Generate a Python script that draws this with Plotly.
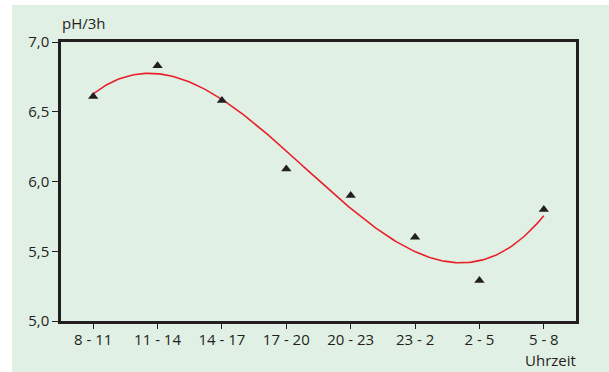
import numpy as np
import plotly.graph_objects as go

categories = ["8 - 11", "11 - 14", "14 - 17", "17 - 20", "20 - 23", "23 - 2", "2 - 5", "5 - 8"]
ph_values = [6.61, 6.83, 6.58, 6.09, 5.90, 5.60, 5.29, 5.80]
y_ticks = [5.0, 5.5, 6.0, 6.5, 7.0]

x_idx = np.arange(len(categories))
# cubic trendline fitted to the measured values
coef = np.polyfit(x_idx, ph_values, 3)
xs = np.linspace(0, len(categories) - 1, 200)
ys = np.polyval(coef, xs)

GREEN = "#e1f0e5"
DARK = "#231f20"
FONT = "Open Sans"
FS = 15

fig = go.Figure()
fig.add_trace(go.Scatter(x=xs, y=ys, mode="lines",
                         line=dict(color="#e8202a", width=1.6),
                         hoverinfo="skip", showlegend=False))
fig.add_trace(go.Scatter(x=x_idx, y=ph_values, mode="markers",
                         marker=dict(symbol="triangle-up", size=9, color=DARK),
                         showlegend=False))

fig.update_layout(
    width=609, height=372,
    margin=dict(l=61, r=33, t=42, b=51),
    paper_bgcolor=GREEN, plot_bgcolor=GREEN,
    separators=",.",
    font=dict(family=FONT, size=FS, color=DARK),
    xaxis=dict(range=[-0.5, len(categories) - 0.5], tickmode="array",
               tickvals=list(x_idx), ticktext=categories,
               showgrid=False, zeroline=False,
               showline=True, linecolor=DARK, linewidth=2.5, mirror=True,
               ticks="outside", ticklen=5, tickwidth=1, tickcolor=DARK,
               ticklabelstandoff=-2,
               tickfont=dict(family=FONT, size=FS, color=DARK)),
    yaxis=dict(range=[5.0, 7.0], tickmode="array", tickvals=y_ticks,
               tickformat=".1f", showgrid=False, zeroline=False,
               showline=True, linecolor=DARK, linewidth=2.5, mirror=True,
               ticks="outside", ticklen=6, tickwidth=1, tickcolor=DARK,
               tickfont=dict(family=FONT, size=FS, color=DARK)),
    shapes=[
        dict(type="rect", xref="paper", yref="paper",
             x0=-0.2, x1=(12 - 61) / 515, y0=-0.3, y1=1.3,
             fillcolor="white", line=dict(width=0), layer="below"),
        dict(type="rect", xref="paper", yref="paper",
             x0=-0.2, x1=1.2, y0=(321 - 5) / 279, y1=1.3,
             fillcolor="white", line=dict(width=0), layer="below"),
    ],
    annotations=[
        dict(text="pH/3h", xref="paper", yref="paper", x=0.0, y=1.0,
             xanchor="left", yanchor="bottom", yshift=7, xshift=-1, showarrow=False,
             font=dict(family=FONT, size=FS, color=DARK)),
        dict(text="Uhrzeit", xref="paper", yref="paper", x=1.0, y=0.0,
             xanchor="right", yanchor="top", yshift=-27, xshift=2, showarrow=False,
             font=dict(family=FONT, size=FS, color=DARK)),
    ],
)

fig.write_html("out.html", config={"displayModeBar": False},
               post_script="document.body.style.margin='0';document.body.style.overflow='hidden';")
